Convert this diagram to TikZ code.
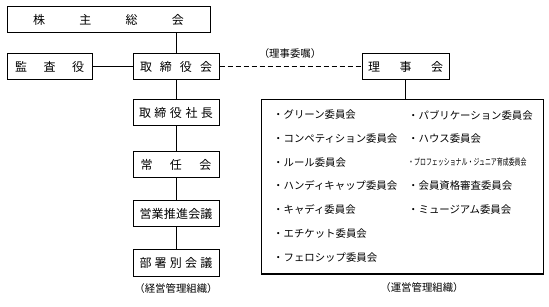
\documentclass[tikz,border=0pt]{standalone}
\usepackage{fontspec}
\usepackage{graphicx}
\setmainfont{Noto Sans CJK JP}
\begin{document}
\begin{tikzpicture}[x=1pt,y=-1pt,
  box/.style={draw,line width=1pt,minimum height=26pt,inner sep=0pt,font=\fontsize{12}{14}\selectfont},
  midbox/.style={box,minimum width=86pt},
  conn/.style={line width=0.9pt},
  item/.style={anchor=west,inner sep=0pt,font=\fontsize{10.4}{12}\selectfont},
  captxt/.style={inner sep=0pt,font=\fontsize{10.4}{12}\selectfont}]
\useasboundingbox (0,0) rectangle (549,307);
% left side
\node[box,minimum width=203pt] (sh) at (108.5,20) {\makebox[151pt]{株\hfill 主\hfill 総\hfill 会}};
\node[box,minimum width=85pt] (ka) at (49.5,66.5) {\makebox[69pt]{監\hfill 査\hfill 役}};
\node[midbox] (tr) at (176,66.5) {\makebox[72pt]{取\hfill 締\hfill 役\hfill 会}};
\node[midbox] (sa) at (176,113) {\makebox[74pt]{取\hfill 締\hfill 役\hfill 社\hfill 長}};
\node[midbox] (jo) at (176,165) {\makebox[71pt]{常\hfill 任\hfill 会}};
\node[midbox] (ei) at (176,214) {\makebox[73pt]{営\hfill 業\hfill 推\hfill 進\hfill 会\hfill 議}};
\node[midbox] (bu) at (176,263) {\makebox[73pt]{部\hfill 署\hfill 別\hfill 会\hfill 議}};
\node[captxt] (c1) at (176,289) {（経営管理組織）};
\draw[conn] (sh.south -| tr.north) -- (tr.north);
\draw[conn] (ka.east) -- (tr.west);
\draw[conn] (tr.south) -- (sa.north);
\draw[conn] (sa.south) -- (jo.north);
\draw[conn] (jo.south) -- (ei.north);
\draw[conn] (ei.south) -- (bu.north);
% right side
\node[box,minimum width=87pt] (rj) at (405.5,66.5) {\makebox[75pt]{理\hfill 事\hfill 会}};
\draw[conn,dash pattern=on 5pt off 3pt] (tr.east) -- (rj.west);
\node[captxt] (ic) at (290,54) {（理事委嘱）};
\node[draw,line width=1pt,minimum width=282pt,minimum height=174pt,inner sep=0pt] (com) at (402,187) {};
\draw[conn] (rj.south) -- (rj.south |- com.north);
\node[item] (l1) at (273,115) {・グリーン委員会};
\node[item] (l2) at (273,138.7) {・コンペティション委員会};
\node[item] (l3) at (273,162.4) {・ルール委員会};
\node[item] (l4) at (273,186) {・ハンディキャップ委員会};
\node[item] (l5) at (273,210) {・キャディ委員会};
\node[item] (l6) at (273,234) {・エチケット委員会};
\node[item] (l7) at (273,258) {・フェロシップ委員会};
\node[item] (r1) at (408,115) {・パブリケーション委員会};
\node[item] (r2) at (408,138.7) {・ハウス委員会};
\node[item] (r3) at (408,162.4) {\scalebox{0.66}[1]{\fontsize{9}{10}\selectfont ・プロフェッショナル・ジュニア育成委員会}};
\node[item] (r4) at (408,186) {・会員資格審査委員会};
\node[item] (r5) at (408,210) {・ミュージアム委員会};
\node[captxt] (c2) at (422,288) {（運営管理組織）};
\end{tikzpicture}
\end{document}
